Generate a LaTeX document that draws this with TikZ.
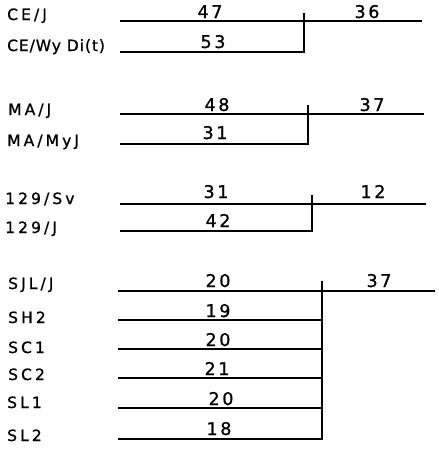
\documentclass[tikz,border=0pt]{standalone}
\usepackage{fontspec}
\setmainfont{DejaVu Sans}
\newfontfamily\lblfont[LetterSpace=20,FakeBold=1]{DejaVu Sans}
\newfontfamily\lbltight[LetterSpace=6,FakeBold=1]{DejaVu Sans}
\newfontfamily\numfont[LetterSpace=15,FakeBold=1]{DejaVu Sans}
\begin{document}
\begin{tikzpicture}[x=1pt,y=-1pt,
  branch/.style={line width=1.7pt},
  strain/.style={anchor=base west,inner sep=0pt,font=\lblfont\fontsize{15.5}{18}\selectfont},
  val/.style={anchor=base,inner sep=0pt,font=\numfont\fontsize{17.5}{20}\selectfont}]
\useasboundingbox (0,0) rectangle (439,450);
% ---------- group 1
\coordinate (g1a) at (120,21);
\coordinate (g1b) at (120,52);
\coordinate (g1t) at (304,13);
\coordinate (g1k) at (304,52);
\coordinate (g1r) at (422,21);
\draw[branch] (g1a) -- (g1r);
\draw[branch] (g1b) -- (g1k) -- (g1t);
\node[strain] (s1a) at (7,20) {CE/J};
\node[strain,font=\lbltight\fontsize{15.5}{18}\selectfont] (s1b) at (7,51) {CE/Wy Di(t)};
\node[val] (n1a) at (210,18) {47};
\node[val] (n1r) at (367,18) {36};
\node[val] (n1b) at (213,48) {53};
% ---------- group 2
\coordinate (g2a) at (120,114);
\coordinate (g2b) at (120,144);
\coordinate (g2t) at (308,105);
\coordinate (g2k) at (308,144);
\coordinate (g2r) at (424,114);
\draw[branch] (g2a) -- (g2r);
\draw[branch] (g2b) -- (g2k) -- (g2t);
\node[strain] (s2a) at (8,115) {MA/J};
\node[strain] (s2b) at (7,146) {MA/MyJ};
\node[val] (n2a) at (217,111) {48};
\node[val] (n2r) at (372,111) {37};
\node[val] (n2b) at (215,139) {31};
% ---------- group 3
\coordinate (g3a) at (120,204);
\coordinate (g3b) at (120,231);
\coordinate (g3t) at (312,195);
\coordinate (g3k) at (312,231);
\coordinate (g3r) at (426,204);
\draw[branch] (g3a) -- (g3r);
\draw[branch] (g3b) -- (g3k) -- (g3t);
\node[strain] (s3a) at (5,204) {129/Sv};
\node[strain] (s3b) at (5,233) {129/J};
\node[val] (n3a) at (216,198) {31};
\node[val] (n3r) at (373,198) {12};
\node[val] (n3b) at (218,227) {42};
% ---------- group 4
\coordinate (g4a) at (118,291);
\coordinate (g4r) at (435,291);
\coordinate (g4t) at (322,281);
\coordinate (g4b1) at (118,320);
\coordinate (g4b2) at (118,349);
\coordinate (g4b3) at (118,378);
\coordinate (g4b4) at (118,408);
\coordinate (g4b5) at (118,439);
\coordinate (g4k1) at (322,320);
\coordinate (g4k2) at (322,349);
\coordinate (g4k3) at (322,378);
\coordinate (g4k4) at (322,408);
\coordinate (g4k5) at (322,439);
\draw[branch] (g4a) -- (g4r);
\draw[branch] (g4b1) -- (g4k1);
\draw[branch] (g4b2) -- (g4k2);
\draw[branch] (g4b3) -- (g4k3);
\draw[branch] (g4b4) -- (g4k4);
\draw[branch] (g4b5) -- (g4k5) -- (g4t);
\node[strain] (s4a) at (8,289) {SJL/J};
\node[strain] (s4b) at (8,323) {SH2};
\node[strain] (s4c) at (8,353) {SC1};
\node[strain] (s4d) at (8,380) {SC2};
\node[strain] (s4e) at (7,408) {SL1};
\node[strain] (s4f) at (7,441) {SL2};
\node[val] (n4a) at (218,287) {20};
\node[val] (n4r) at (379,287) {37};
\node[val] (n4b) at (218,317) {19};
\node[val] (n4c) at (218,346) {20};
\node[val] (n4d) at (217,375) {21};
\node[val] (n4e) at (221,405) {20};
\node[val] (n4f) at (219,435) {18};
\end{tikzpicture}
\end{document}
